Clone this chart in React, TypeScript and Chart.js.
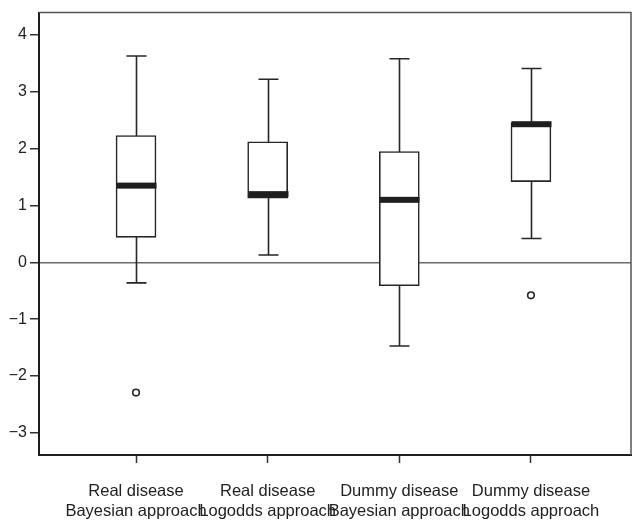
import React, { useEffect, useRef } from "react";
import { Chart, registerables } from "chart.js";

Chart.register(...registerables);

const categories: string[][] = [
  ["Real disease", "Bayesian approach"],
  ["Real disease", "Logodds approach"],
  ["Dummy disease", "Bayesian approach"],
  ["Dummy disease", "Logodds approach"],
];
const positions = [1, 2, 3, 4];
const whiskerLow = [-0.36, 0.13, -1.47, 0.42];
const q1 = [0.44, 1.13, -0.41, 1.42];
const median = [1.35, 1.2, 1.1, 2.43];
const q3 = [2.23, 2.12, 1.95, 2.46];
const whiskerHigh = [3.63, 3.22, 3.58, 3.41];
const outlierGroup = [1, 4];
const outlierValue = [-2.29, -0.58];
const yTicks = [-3, -2, -1, 0, 1, 2, 3, 4];

const INK = "#262626";

const boxPlugin = {
  id: "boxParts",
  beforeDatasetsDraw(chart: any) {
    const { ctx, scales } = chart;
    const xs = scales.x;
    const ys = scales.y;
    ctx.save();
    ctx.strokeStyle = INK;
    ctx.lineWidth = 1.6;
    positions.forEach((p, i) => {
      const x = Math.round(xs.getPixelForValue(p)) + 0.5;
      const yl = ys.getPixelForValue(whiskerLow[i]);
      const yh = ys.getPixelForValue(whiskerHigh[i]);
      ctx.beginPath();
      ctx.moveTo(x, yl);
      ctx.lineTo(x, yh);
      ctx.moveTo(x - 10, yl);
      ctx.lineTo(x + 10, yl);
      ctx.moveTo(x - 10, yh);
      ctx.lineTo(x + 10, yh);
      ctx.stroke();
    });
    ctx.restore();
  },
  afterDatasetsDraw(chart: any) {
    const { ctx, scales } = chart;
    const xs = scales.x;
    const ys = scales.y;
    ctx.save();
    ctx.fillStyle = "#1e1e1e";
    positions.forEach((p, i) => {
      const x = Math.round(xs.getPixelForValue(p)) + 0.5;
      const ym = ys.getPixelForValue(median[i]);
      ctx.fillRect(x - 20, ym - 3, 40, 6);
    });
    ctx.restore();
  },
  afterDraw(chart: any) {
    const { ctx, chartArea } = chart;
    ctx.save();
    ctx.strokeStyle = "#555";
    ctx.lineWidth = 1.5;
    ctx.beginPath();
    ctx.moveTo(chartArea.left, chartArea.top);
    ctx.lineTo(chartArea.right, chartArea.top);
    ctx.lineTo(chartArea.right, chartArea.bottom);
    ctx.stroke();
    ctx.restore();
  },
};

export default function App() {
  const ref = useRef<HTMLCanvasElement | null>(null);

  useEffect(() => {
    document.body.style.margin = "0";
    const canvas = ref.current;
    if (!canvas) return;
    const chart = new Chart(canvas, {
      type: "bar",
      data: {
        datasets: [
          {
            type: "bar",
            data: positions.map((p, i) => ({ x: p, y: [q1[i], q3[i]] })) as any,
            backgroundColor: "#ffffff",
            borderColor: INK,
            borderWidth: 1.6,
            borderSkipped: false,
            barThickness: 40,
          } as any,
          {
            type: "scatter",
            data: outlierGroup.map((g, i) => ({ x: g, y: outlierValue[i] })),
            pointRadius: 3.3,
            pointBorderWidth: 1.6,
            pointBackgroundColor: "#ffffff",
            pointBorderColor: INK,
            showLine: false,
          } as any,
        ],
      },
      options: {
        animation: false,
        responsive: false,
        events: [],
        layout: { padding: { top: 9, right: 12, left: 0, bottom: 0 } },
        plugins: { legend: { display: false }, tooltip: { enabled: false } },
        scales: {
          x: {
            type: "linear",
            min: 0.263,
            max: 4.76,
            offset: false,
            afterBuildTicks: (s: any) => {
              s.ticks = positions.map((v) => ({ value: v }));
            },
            afterFit: (s: any) => {
              s.height = 66;
            },
            grid: {
              display: true,
              offset: false,
              drawOnChartArea: false,
              drawTicks: true,
              tickLength: 8,
              tickColor: "#333",
              tickWidth: 1.5,
            },
            border: { display: true, color: "#1e1e1e", width: 2 },
            ticks: {
              autoSkip: false,
              maxRotation: 0,
              padding: 19,
              color: "#222",
              font: { family: "'Liberation Sans', Arial, sans-serif", size: 16.5, lineHeight: 1.18 },
              callback: (v: any) => {
                const idx = positions.indexOf(Number(v));
                return idx >= 0 ? categories[idx] : "";
              },
            },
          },
          y: {
            type: "linear",
            min: -3.388,
            max: 4.393,
            afterBuildTicks: (s: any) => {
              s.ticks = yTicks.map((v) => ({ value: v }));
            },
            afterFit: (s: any) => {
              s.width = 39;
            },
            grid: {
              display: true,
              drawOnChartArea: true,
              drawTicks: true,
              tickLength: 9,
              tickColor: "#333",
              tickWidth: 1.5,
              lineWidth: 1.5,
              color: (c: any) => (c.tick && c.tick.value === 0 ? "#6a6a6a" : "rgba(0,0,0,0)"),
            },
            border: { display: true, color: "#1e1e1e", width: 2 },
            ticks: {
              padding: 3,
              color: "#222",
              font: { family: "'Liberation Sans', Arial, sans-serif", size: 16 },
              callback: (v: any) => {
                const n = Number(v);
                return n < 0 ? "\u2212" + Math.abs(n) : String(n);
              },
            },
          },
        },
      },
      plugins: [boxPlugin],
    } as any);
    return () => chart.destroy();
  }, []);

  return <canvas ref={ref} width={643} height={521} style={{ display: "block" }} />;
}
